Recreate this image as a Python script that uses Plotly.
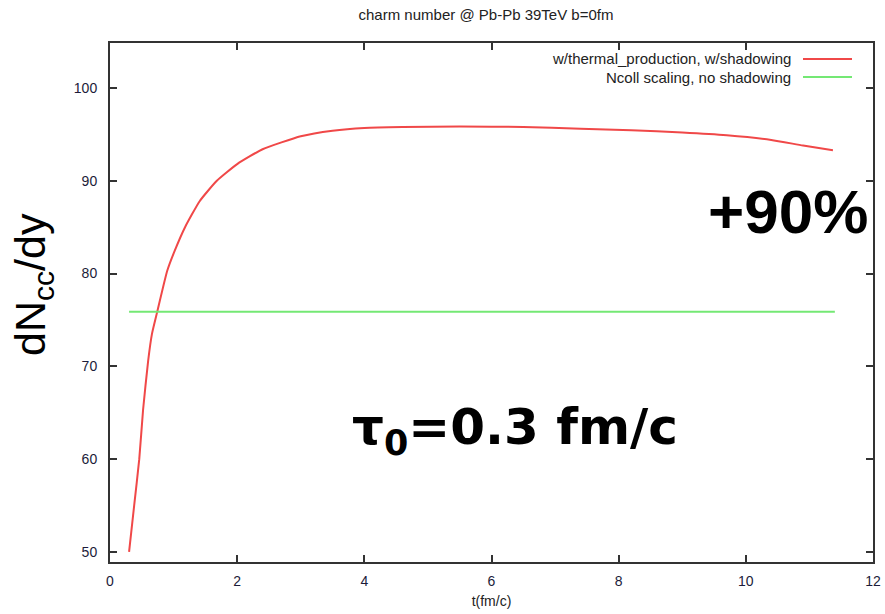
import plotly.graph_objects as go

# Charm yield vs. proper time, Pb-Pb 39 TeV, b = 0 fm
t_thermal = [0.3, 0.38, 0.46, 0.52, 0.6, 0.66, 0.74, 0.9, 1.02, 1.18, 1.41, 1.68,
             2.0, 2.4, 3.0, 3.5, 4.0, 4.6, 5.5, 6.5, 7.4, 8.2, 9.0, 9.7, 10.4,
             10.9, 11.37]
n_thermal = [50.0, 55.0, 60.0, 65.3, 70.6, 73.5, 75.8, 80.3, 82.5, 85.0, 87.8,
             90.0, 91.8, 93.4, 94.8, 95.4, 95.7, 95.8, 95.85, 95.8, 95.6, 95.45,
             95.2, 94.9, 94.4, 93.8, 93.3]

t_ncoll = [0.3, 11.4]
n_ncoll = [75.9, 75.9]

series_names = ["w/thermal_production, w/shadowing", "Ncoll scaling, no shadowing"]
series_colors = ["#f04848", "#74e874"]

x_ticks = [0, 2, 4, 6, 8, 10, 12]
y_ticks = [50, 60, 70, 80, 90, 100]

W, H = 885, 614
L, R, T, B = 110, 12, 43, 52
pw, ph = W - L - R, H - T - B

FONT = "Liberation Sans, Arial, Helvetica, sans-serif"
WIDE_FONT = "DejaVu Sans, Liberation Sans, sans-serif"


def px_x(p):
    return (p - L) / pw


def px_y(p):
    return (H - B - p) / ph


fig = go.Figure()
fig.add_trace(go.Scatter(x=t_thermal, y=n_thermal, mode="lines",
                         line=dict(color=series_colors[0], width=2, shape="spline", smoothing=0.5),
                         name=series_names[0], showlegend=False))
fig.add_trace(go.Scatter(x=t_ncoll, y=n_ncoll, mode="lines",
                         line=dict(color=series_colors[1], width=2),
                         name=series_names[1], showlegend=False))

axis_common = dict(showline=True, linecolor="#333333", linewidth=2, mirror="ticks",
                   ticks="inside", ticklen=7, tickwidth=1.5, tickcolor="#333333",
                   showgrid=False, zeroline=False, automargin=False,
                   tickfont=dict(family=FONT, size=14, color="#1c1c3a"))

fig.update_xaxes(range=[0, 12], tickvals=x_ticks, ticklabelstandoff=5,
                 title=dict(text="t(fm/c)", standoff=8,
                            font=dict(family=FONT, size=14, color="#222")),
                 **axis_common)
fig.update_yaxes(range=[48.92, 104.85], tickvals=y_ticks, ticklabelstandoff=8,
                 **axis_common)

annotations = [
    dict(text="dN<sub>cc</sub>/dy", x=px_x(33), y=px_y(285), xref="paper", yref="paper",
         showarrow=False, textangle=-90, xanchor="center", yanchor="middle",
         font=dict(family=FONT, size=43, color="#000")),
    dict(text="<b>+90%</b>", x=px_x(870), y=px_y(212), xref="paper", yref="paper",
         showarrow=False, xanchor="right", yanchor="middle",
         font=dict(family=FONT, size=62, color="#000")),
    dict(text="<b>τ<sub>0</sub>=0.3 fm/c</b>", x=px_x(350), y=px_y(430),
         xref="paper", yref="paper",
         showarrow=False, xanchor="left", yanchor="middle",
         font=dict(family=WIDE_FONT, size=50, color="#000")),
]

# key: text right-aligned with the line sample to its right
shapes = []
for i, (name, col) in enumerate(zip(series_names, series_colors)):
    yy = 59 + 18 * i
    annotations.append(dict(text=name, x=px_x(793), y=px_y(yy), xref="paper", yref="paper",
                            showarrow=False, xanchor="right", yanchor="middle",
                            font=dict(family=FONT, size=15, color="#222")))
    shapes.append(dict(type="line", xref="paper", yref="paper",
                       x0=px_x(803), x1=px_x(852), y0=px_y(yy), y1=px_y(yy),
                       line=dict(color=col, width=2)))

fig.update_layout(
    width=W, height=H,
    margin=dict(l=L, r=R, t=T, b=B),
    paper_bgcolor="white", plot_bgcolor="white",
    title=dict(text="charm number @ Pb-Pb 39TeV b=0fm", xref="paper", x=px_x(486),
               xanchor="center", yref="container", y=1 - 15 / H, yanchor="middle",
               font=dict(family=FONT, size=15, color="#222")),
    annotations=annotations, shapes=shapes,
)

fig.write_html("out.html")
